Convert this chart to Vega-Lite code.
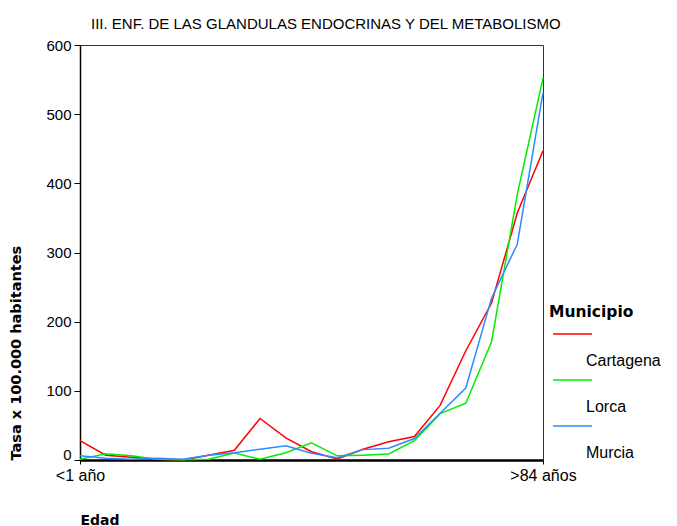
{
  "$schema": "https://vega.github.io/schema/vega-lite/v6.json",
  "width": 463,
  "height": 415,
  "autosize": "none",
  "padding": {"left": 80, "top": 45, "right": 134, "bottom": 66},
  "background": "white",
  "title": {
    "text": "III. ENF. DE LAS GLANDULAS ENDOCRINAS Y DEL METABOLISMO",
    "anchor": "start",
    "frame": "group",
    "dx": 11,
    "offset": -6,
    "baseline": "alphabetic",
    "font": "Liberation Sans",
    "fontSize": 15,
    "fontWeight": "normal",
    "color": "#000"
  },
  "config": {
    "view": {"stroke": "#333", "strokeWidth": 1},
    "axis": {"grid": false, "labelColor": "#000", "titleColor": "#000", "domainColor": "#000", "tickColor": "#000"}
  },
  "data": {
    "values": [
      {"edad": "<1 año", "municipio": "Cartagena", "tasa": 28},
      {"edad": "1-4", "municipio": "Cartagena", "tasa": 7},
      {"edad": "5-9", "municipio": "Cartagena", "tasa": 4},
      {"edad": "10-14", "municipio": "Cartagena", "tasa": 1},
      {"edad": "15-19", "municipio": "Cartagena", "tasa": 0},
      {"edad": "20-24", "municipio": "Cartagena", "tasa": 7},
      {"edad": "25-29", "municipio": "Cartagena", "tasa": 14},
      {"edad": "30-34", "municipio": "Cartagena", "tasa": 60},
      {"edad": "35-39", "municipio": "Cartagena", "tasa": 32},
      {"edad": "40-44", "municipio": "Cartagena", "tasa": 12},
      {"edad": "45-49", "municipio": "Cartagena", "tasa": 1.5},
      {"edad": "50-54", "municipio": "Cartagena", "tasa": 15.5},
      {"edad": "55-59", "municipio": "Cartagena", "tasa": 26.5},
      {"edad": "60-64", "municipio": "Cartagena", "tasa": 34},
      {"edad": "65-69", "municipio": "Cartagena", "tasa": 79},
      {"edad": "70-74", "municipio": "Cartagena", "tasa": 158},
      {"edad": "75-79", "municipio": "Cartagena", "tasa": 227},
      {"edad": "80-84", "municipio": "Cartagena", "tasa": 357},
      {"edad": ">84 años", "municipio": "Cartagena", "tasa": 447},
      {"edad": "<1 año", "municipio": "Lorca", "tasa": 1},
      {"edad": "1-4", "municipio": "Lorca", "tasa": 9},
      {"edad": "5-9", "municipio": "Lorca", "tasa": 6},
      {"edad": "10-14", "municipio": "Lorca", "tasa": 1},
      {"edad": "15-19", "municipio": "Lorca", "tasa": 0.5},
      {"edad": "20-24", "municipio": "Lorca", "tasa": 1},
      {"edad": "25-29", "municipio": "Lorca", "tasa": 10},
      {"edad": "30-34", "municipio": "Lorca", "tasa": 1},
      {"edad": "35-39", "municipio": "Lorca", "tasa": 10.5},
      {"edad": "40-44", "municipio": "Lorca", "tasa": 25},
      {"edad": "45-49", "municipio": "Lorca", "tasa": 6},
      {"edad": "50-54", "municipio": "Lorca", "tasa": 7},
      {"edad": "55-59", "municipio": "Lorca", "tasa": 8.7},
      {"edad": "60-64", "municipio": "Lorca", "tasa": 28},
      {"edad": "65-69", "municipio": "Lorca", "tasa": 67},
      {"edad": "70-74", "municipio": "Lorca", "tasa": 82},
      {"edad": "75-79", "municipio": "Lorca", "tasa": 171},
      {"edad": "80-84", "municipio": "Lorca", "tasa": 384},
      {"edad": ">84 años", "municipio": "Lorca", "tasa": 552},
      {"edad": "<1 año", "municipio": "Murcia", "tasa": 6},
      {"edad": "1-4", "municipio": "Murcia", "tasa": 2.4},
      {"edad": "5-9", "municipio": "Murcia", "tasa": 1},
      {"edad": "10-14", "municipio": "Murcia", "tasa": 2.4},
      {"edad": "15-19", "municipio": "Murcia", "tasa": 1},
      {"edad": "20-24", "municipio": "Murcia", "tasa": 7},
      {"edad": "25-29", "municipio": "Murcia", "tasa": 10.6},
      {"edad": "30-34", "municipio": "Murcia", "tasa": 15.5},
      {"edad": "35-39", "municipio": "Murcia", "tasa": 20.7},
      {"edad": "40-44", "municipio": "Murcia", "tasa": 9.7},
      {"edad": "45-49", "municipio": "Murcia", "tasa": 3.4},
      {"edad": "50-54", "municipio": "Murcia", "tasa": 15},
      {"edad": "55-59", "municipio": "Murcia", "tasa": 17},
      {"edad": "60-64", "municipio": "Murcia", "tasa": 31},
      {"edad": "65-69", "municipio": "Murcia", "tasa": 67.6},
      {"edad": "70-74", "municipio": "Murcia", "tasa": 104},
      {"edad": "75-79", "municipio": "Murcia", "tasa": 234},
      {"edad": "80-84", "municipio": "Murcia", "tasa": 312},
      {"edad": ">84 años", "municipio": "Murcia", "tasa": 531}
    ]
  },
  "mark": {"type": "line", "strokeWidth": 1.5, "clip": false},
  "encoding": {
    "x": {
      "field": "edad",
      "type": "ordinal",
      "sort": null,
      "scale": {"type": "point", "padding": 0},
      "axis": {
        "title": "Edad",
        "values": ["<1 año", ">84 años"],
        "labelAngle": 0,
        "labelFont": "Liberation Sans",
        "labelFontSize": 16,
        "labelPadding": 3,
        "tickSize": 4,
        "domainWidth": 2.5,
        "titleFont": "DejaVu Sans",
        "titleFontWeight": "bold",
        "titleFontSize": 14,
        "titleAnchor": "start",
        "titlePadding": 30
      }
    },
    "y": {
      "field": "tasa",
      "type": "quantitative",
      "scale": {"domain": [0, 600], "nice": false},
      "axis": {
        "title": "Tasa x 100.000 habitantes",
        "values": [0, 100, 200, 300, 400, 500, 600],
        "labelFont": "Liberation Sans",
        "labelFontSize": 15,
        "labelPadding": 3,
        "labelOffset": {"condition": {"test": "datum.value === 0", "value": -6}, "value": 0},
        "tickSize": 6,
        "domainWidth": 1.5,
        "titleFont": "DejaVu Sans",
        "titleFontWeight": "bold",
        "titleFontSize": 14.5,
        "titleAnchor": "start",
        "titlePadding": 22
      }
    },
    "color": {
      "field": "municipio",
      "type": "nominal",
      "scale": {"domain": ["Cartagena", "Lorca", "Murcia"], "range": ["#ff0000", "#00ee00", "#2a8cff"]},
      "legend": {
        "title": "Municipio",
        "orient": "none",
        "legendX": 469,
        "legendY": 260,
        "padding": 0,
        "titleFont": "DejaVu Sans",
        "titleFontWeight": "bold",
        "titleFontSize": 15.5,
        "titleColor": "#000",
        "titlePadding": 3,
        "symbolType": "M-2,0H2",
        "symbolSize": 380,
        "symbolStrokeWidth": 1.5,
        "symbolFillColor": "transparent",
        "symbolOffset": 13,
        "labelFont": "Liberation Sans",
        "labelFontSize": 16,
        "labelColor": "#000",
        "labelOffset": 3,
        "rowPadding": 0,
        "encode": {"labels": {"update": {"dy": {"value": 27}}}}
      }
    }
  }
}
